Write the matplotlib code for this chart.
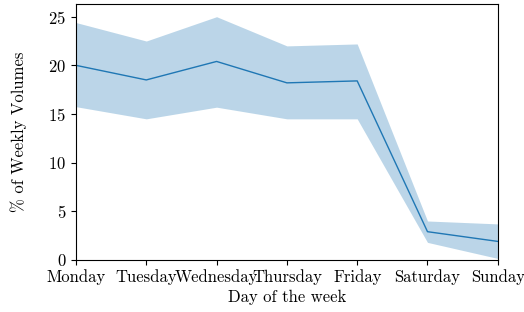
import matplotlib
matplotlib.use("Agg")
import matplotlib.pyplot as plt

plt.rcParams['font.family'] = 'serif'
plt.rcParams['font.serif'] = ['cmr10', 'DejaVu Serif']
plt.rcParams['mathtext.fontset'] = 'cm'
plt.rcParams['axes.formatter.use_mathtext'] = True
plt.rcParams['axes.unicode_minus'] = False

# --- data ---
days = ['Monday', 'Tuesday', 'Wednesday', 'Thursday', 'Friday', 'Saturday', 'Sunday']
mean_share = [20.0, 18.5, 20.4, 18.2, 18.4, 2.9, 1.9]
upper_share = [24.4, 22.5, 25.0, 22.0, 22.2, 4.0, 3.7]
lower_share = [15.75, 14.5, 15.7, 14.5, 14.5, 1.8, 0.15]

fig = plt.figure(figsize=(5.24, 3.12), dpi=100)
ax = fig.add_axes([0.145, 0.167, 0.805, 0.820])

x = list(range(len(days)))
ax.fill_between(x, lower_share, upper_share, color='tab:blue', alpha=0.3, linewidth=0)
ax.plot(x, mean_share, color='tab:blue', linewidth=1.0)

ax.set_xlim(0, len(days) - 1)
ax.set_ylim(0, 26.3)
ax.set_xticks(x)
ax.set_xticklabels(days)
ax.set_yticks([0, 5, 10, 15, 20, 25])
ax.tick_params(labelsize=12)
ax.set_xlabel('Day of the week', fontsize=12, labelpad=3)
ax.set_ylabel('% of Weekly Volumes', fontsize=12, labelpad=15)

fig.savefig('out.png', dpi=100)
